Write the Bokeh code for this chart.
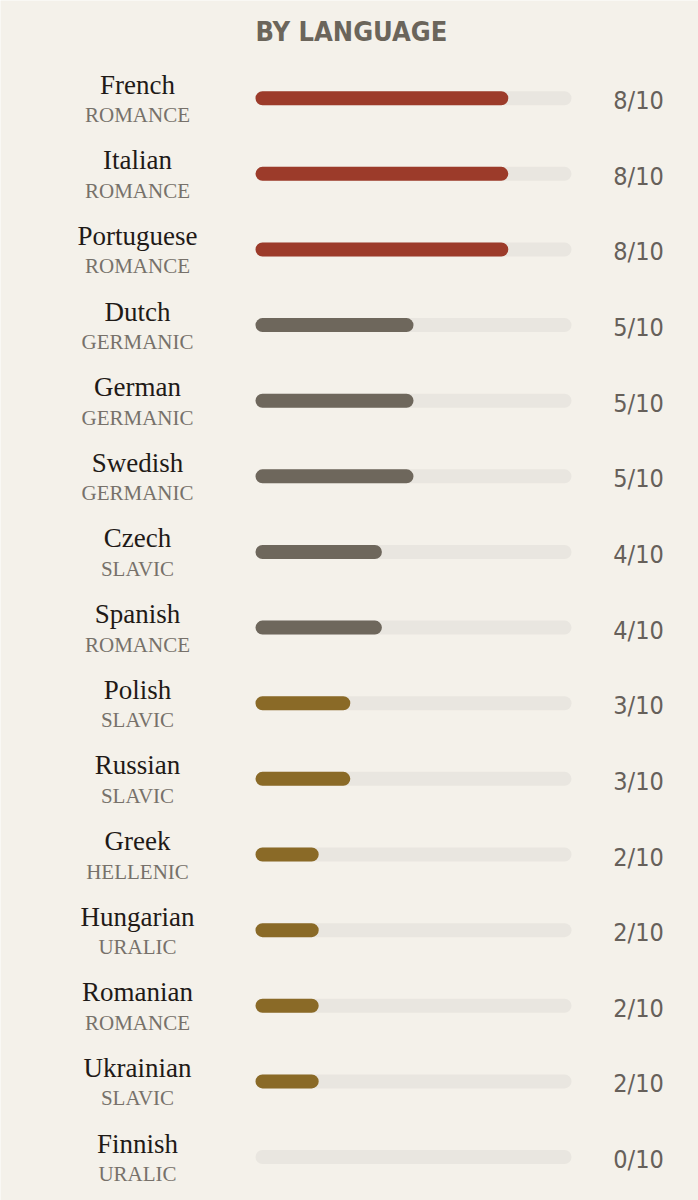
from bokeh.plotting import figure
from bokeh.models import Range1d, ColumnDataSource
from bokeh.core.properties import value
from bokeh.embed import file_html
from bokeh.resources import INLINE

languages = ["French", "Italian", "Portuguese", "Dutch", "German", "Swedish", "Czech",
             "Spanish", "Polish", "Russian", "Greek", "Hungarian", "Romanian", "Ukrainian", "Finnish"]
families = ["ROMANCE", "ROMANCE", "ROMANCE", "GERMANIC", "GERMANIC", "GERMANIC", "SLAVIC",
            "ROMANCE", "SLAVIC", "SLAVIC", "HELLENIC", "URALIC", "ROMANCE", "SLAVIC", "URALIC"]
scores = [8, 8, 8, 5, 5, 5, 4, 4, 3, 3, 2, 2, 2, 2, 0]
max_score = 10
title_text = "BY LANGUAGE"

BG = "#f4f1ea"
TRACK = "#e9e6e0"
RED = "#9c3b2a"
GRAY = "#6e675c"
GOLD = "#8a6a27"

def tier_color(s):
    if s >= 7:
        return RED
    if s >= 4:
        return GRAY
    return GOLD

# layout (pixels -> data)
W, H = 698, 1200
PX_PER_UNIT = 31.6      # horizontal px per score unit
X0_PX = 255             # px of score 0
ROW_PX = 75.63
Y0_PX = 97.7            # px of first row centre

def px_to_x(px):
    return (px - X0_PX) / PX_PER_UNIT

def px_to_y(px):
    return (px - Y0_PX) / ROW_PX

p = figure(width=W, height=H, output_backend="svg", toolbar_location=None,
           x_range=Range1d(px_to_x(0), px_to_x(W)),
           y_range=Range1d(px_to_y(H), px_to_y(0)),
           min_border=0, background_fill_color=BG, border_fill_color=BG)
p.axis.visible = False
p.grid.visible = False
p.outline_line_color = None

rows = list(range(len(languages)))
src = ColumnDataSource(dict(
    row=rows, lang=languages, fam=families, score=scores,
    label=[f"{s}/{max_score}" for s in scores],
    color=[tier_color(s) for s in scores],
    track_end=[max_score] * len(rows),
    lang_y=[r + (-13.5) / ROW_PX for r in rows],
    fam_y=[r + 17 / ROW_PX for r in rows],
    score_y=[r + 2.5 / ROW_PX for r in rows],
))

bar_h = 14 / ROW_PX
p.hbar(y="row", left=0, right="track_end", height=bar_h, source=src,
       fill_color=TRACK, line_color=None, border_radius=7)
nz = ColumnDataSource(dict(
    row=[r for r, s in zip(rows, scores) if s > 0],
    score=[s for s in scores if s > 0],
    color=[tier_color(s) for s in scores if s > 0],
))
p.hbar(y="row", left=0, right="score", height=bar_h, source=nz,
       fill_color="color", line_color=None, border_radius=7)

label_x = px_to_x(137)
score_x = px_to_x(638)
narrow = value("'Liberation Sans Narrow', 'DejaVu Sans Condensed', Roboto")

p.text(x=label_x, y="lang_y", text="lang", source=src,
       text_font=value("Liberation Serif"), text_font_size="27px",
       text_color="#1f1a17", text_align="center", text_baseline="alphabetic")
p.text(x=label_x, y="fam_y", text="fam", source=src,
       text_font=value("Liberation Serif"), text_font_size="21px",
       text_color="#77716a", text_align="center", text_baseline="alphabetic")
p.text(x=score_x, y="score_y", text="label", source=src,
       text_font=narrow, text_font_size="25px",
       text_color="#66605a", text_align="center", text_baseline="alphabetic")

p.text(x=[0], y=[px_to_y(31)], text=[title_text],
       text_font=narrow, text_font_size="27px", text_font_style="bold",
       text_color="#6b655b", text_align="left", text_baseline="alphabetic")

html = file_html(p, INLINE)
html = html.replace("<body>", '<body style="margin:0;background:%s">' % BG, 1)
open("out.html", "w").write(html)
